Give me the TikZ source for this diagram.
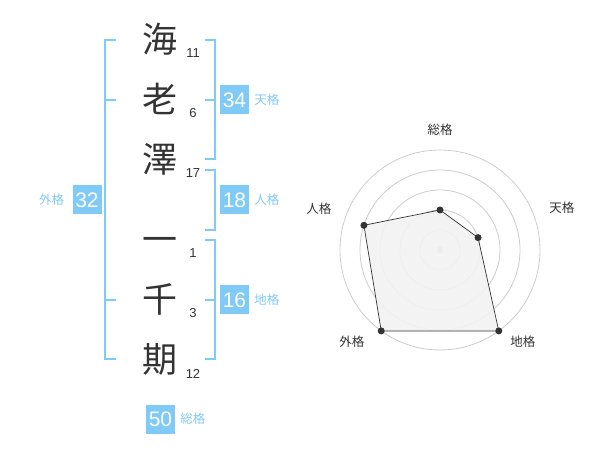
\documentclass[tikz,border=0pt]{standalone}
\usepackage{fontspec}
\setmainfont{Liberation Sans}
\newfontfamily\jp{Noto Sans CJK JP}
\usetikzlibrary{positioning}
\definecolor{kakublue}{RGB}{128,202,248}
\definecolor{moji}{RGB}{51,51,51}
\tikzset{
  kanji/.style={anchor=base, inner sep=0pt, text=moji, font=\jp\fontsize{35}{35}\selectfont},
  kakusu/.style={anchor=base, inner sep=0pt, text=moji, font=\fontsize{13}{13}\selectfont},
  bracket/.style={draw=kakublue, line width=2pt},
  badge/.style={fill=kakublue, text=white, minimum width=29pt, minimum height=29pt, inner sep=0pt, font=\fontsize{21}{21}\selectfont},
  kakuname/.style={inner sep=0pt, text=kakublue, font=\jp\fontsize{12.5}{12.5}\selectfont},
  jiku/.style={inner sep=0pt, text=moji, font=\jp\fontsize{12.5}{12.5}\selectfont}
}

\begin{document}
\begin{tikzpicture}[x=1pt, y=-1pt]
      \useasboundingbox (0, 0) rectangle (600, 470);
      % name, one character per line
      \foreach \ch/\num/\y [count=\i] in {海/11/53, 老/6/113, 澤/17/173, 一/1/253, 千/3/313, 期/12/373} {
            \node [kanji] (moji\i) at (160, \y) {\ch};
            \node [kakusu] (kaku\i) at (193, {\y+5}) {\num};
      }
      % brackets
      \draw [bracket] (116, 40) -- (105, 40) -- (105, 359) -- (116, 359)
                      (105, 100) -- (116, 100)
                      (105, 300) -- (116, 300);
      \draw [bracket] (205, 40) -- (215, 40) -- (215, 159) -- (205, 159)
                      (205, 100) -- (215, 100);
      \draw [bracket] (205, 170) -- (215, 170) -- (215, 230) -- (205, 230);
      \draw [bracket] (205, 240) -- (215, 240) -- (215, 359) -- (205, 359)
                      (205, 300) -- (215, 300);
      % badges
      \node [badge] (ten) at (234.5, 100) {34};
      \node [kakuname, right=5pt of ten] (tenmei) {天格};
      \node [badge] (jin) at (234.5, 200) {18};
      \node [kakuname, right=5pt of jin] (jinmei) {人格};
      \node [badge] (chi) at (234.5, 300) {16};
      \node [kakuname, right=5pt of chi] (chimei) {地格};
      \node [badge] (gai) at (87, 200) {32};
      \node [kakuname, left=8pt of gai] (gaimei) {外格};
      \node [badge] (sou) at (160.5, 419) {50};
      \node [kakuname, right=5pt of sou] (soumei) {総格};
      % radar
      \coordinate (c) at (440, 250);
      \foreach \r in {20, 40, ..., 100}
            \draw [black!20, line width=0.8pt] (c) circle (\r);
      \fill [black!22] (c) circle (3.5);
      \foreach \ang/\r/\name in {90/40/sou, 18/40/ten, -54/100/chi, -126/100/gai, 162/80/jin}
            \coordinate (p\name) at ([shift={(-\ang:\r)}] c);
      \filldraw [fill=black!5, draw=moji, line width=0.7pt, fill opacity=0.9]
            (psou) -- (pten) -- (pchi) -- (pgai) -- (pjin) -- cycle;
      \foreach \name in {sou, ten, chi, gai, jin}
            \fill [moji] (p\name) circle (3.5);
      \foreach \ang/\r/\txt/\name in {90/120/総格/sou, 19/129/天格/ten, -48/124/地格/chi, -134/127/外格/gai, 161/128/人格/jin}
            \node [jiku] (l\name) at ([shift={(-\ang:\r)}] c) {\txt};
\end{tikzpicture}
\end{document}
